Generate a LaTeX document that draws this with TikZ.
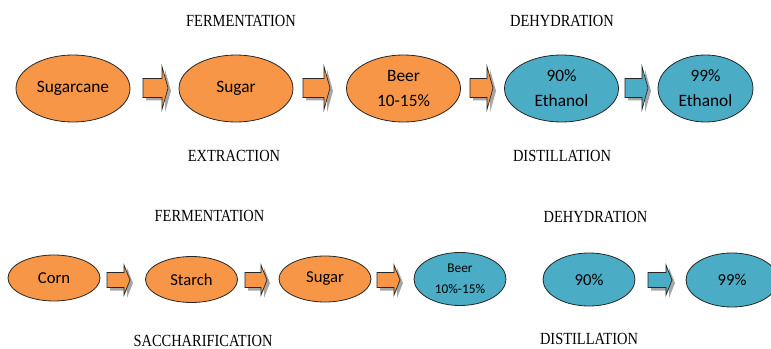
\documentclass[tikz,border=0pt]{standalone}
\usepackage{fontspec}
\setmainfont{Liberation Serif}
\newfontfamily\carl{Carlito}
\usetikzlibrary{shapes.geometric}
\definecolor{orng}{HTML}{F79646}
\definecolor{aqua}{HTML}{4BACC6}
\newcommand\barrow[7]{%
  \fill[black,opacity=0.35,shift={(3,3)}] (#1,#4-#5) -- (#2,#4-#5) -- (#2,#4-#6) -- (#3,#4) -- (#2,#4+#6) -- (#2,#4+#5) -- (#1,#4+#5) -- cycle;
  \draw[blockarrow,fill=#7] (#1,#4-#5) -- (#2,#4-#5) -- (#2,#4-#6) -- (#3,#4) -- (#2,#4+#6) -- (#2,#4+#5) -- (#1,#4+#5) -- cycle;}
\begin{document}
\begin{tikzpicture}[x=0.75pt,y=-0.75pt,
  oval/.style={ellipse,draw=black!85,line width=0.6pt,inner sep=0pt,align=center,
     font=\carl\fontsize{13}{18.75}\selectfont},
  bigoval/.style={oval,minimum width=85.5pt,minimum height=50.25pt},
  smalloval/.style={oval,minimum width=69pt,minimum height=34.5pt,font=\carl\fontsize{12.5}{15}\selectfont},
  blueoval/.style={oval,minimum width=69pt,minimum height=39.75pt,fill=aqua,font=\carl\fontsize{12.5}{15}\selectfont},
  steplabel/.style={inner sep=0pt,font=\fontsize{12.75}{14}\selectfont,xscale=0.85},
  blockarrow/.style={draw=black!85,line width=0.5pt,line join=miter}]
\useasboundingbox (0,0) rectangle (771,349);
% top row
\node[bigoval,fill=orng] (sc) at (73,88.5) {Sugarcane};
\node[bigoval,fill=orng] (su) at (236,88.5) {Sugar};
\node[bigoval,fill=orng] (be) at (403.5,88.5) {Beer\\10-15\%};
\node[bigoval,fill=aqua] (e90) at (561.5,88.5) {90\%\\Ethanol};
\node[bigoval,fill=aqua,minimum width=71.25pt] (e99) at (705.5,88.5) {99\%\\Ethanol};
\barrow{143}{162}{168}{88}{9.5}{21.5}{orng}
\barrow{303}{324}{330}{88}{9.5}{21.5}{orng}
\barrow{470}{487}{493}{88}{9.5}{21.5}{orng}
\barrow{625}{642}{648}{88}{9.5}{21.5}{aqua}
\node[steplabel] (l1) at (241,20.5) {FERMENTATION};
\node[steplabel] (l2) at (562,20.5) {DEHYDRATION};
\node[steplabel] (l3) at (234,156) {EXTRACTION};
\node[steplabel] (l4) at (562,156) {DISTILLATION};
% bottom row
\node[smalloval,fill=orng] (co) at (54,278) {Corn};
\node[smalloval,fill=orng] (st) at (191.5,279.5) {Starch};
\node[smalloval,fill=orng] (su2) at (325,279) {Sugar};
\node[blueoval,font=\carl\fontsize{10}{15.75}\selectfont] (be2) at (460,279) {Beer\\10\%-15\%};
\node[blueoval] (b90) at (589,279.5) {90\%};
\node[blueoval,minimum height=40.5pt] (b99) at (732,280) {99\%};
\barrow{107}{124}{130}{280}{7.5}{15}{orng}
\barrow{245}{261}{267}{280}{7.5}{15}{orng}
\barrow{377}{394}{400}{280}{7.5}{15}{orng}
\barrow{648}{666}{672}{280}{7.5}{15}{aqua}
\node[steplabel] (m1) at (209.5,216) {FERMENTATION};
\node[steplabel] (m2) at (595.5,217) {DEHYDRATION};
\node[steplabel] (m3) at (203,341) {SACCHARIFICATION};
\node[steplabel] (m4) at (589,339) {DISTILLATION};
\end{tikzpicture}
\end{document}
